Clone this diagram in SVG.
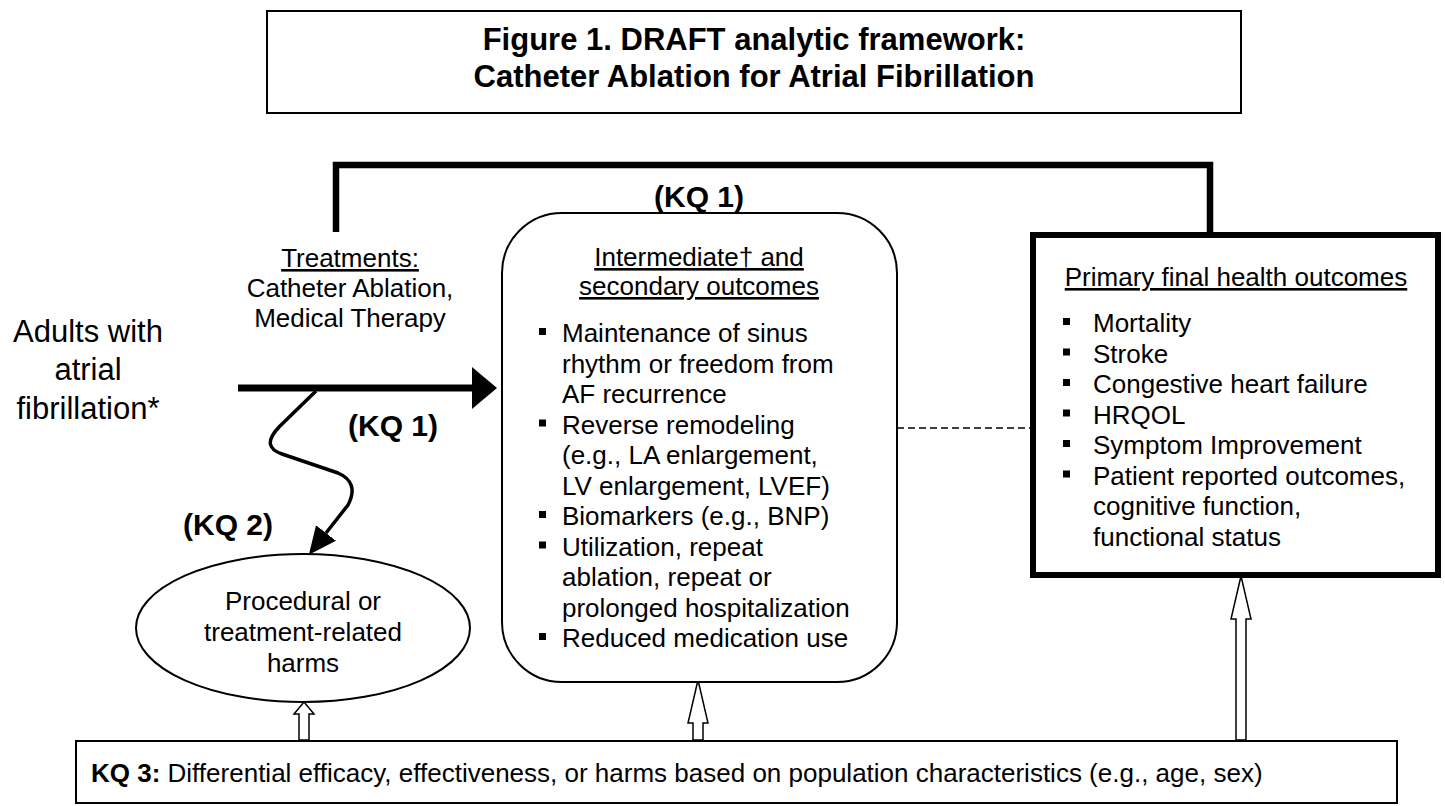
<svg xmlns="http://www.w3.org/2000/svg" width="1445" height="806" viewBox="0 0 1445 806">
<style>
text{font-family:"Liberation Sans",Arial,Helvetica,sans-serif;fill:#000}
.title{font-size:31px;font-weight:bold}
.big{font-size:31px}
.body{font-size:26px}
.kq{font-size:30px;font-weight:bold}
.u{text-decoration:underline}
.thin{fill:#fff;stroke:#000;stroke-width:2}
.thick{fill:#fff;stroke:#000;stroke-width:6}
.hollow{fill:#fff;stroke:#000;stroke-width:1.5;stroke-linejoin:miter}
.bul{fill:#000}
</style>
<defs>
<marker id="headBig" markerUnits="userSpaceOnUse" markerWidth="30" markerHeight="50" refX="0" refY="21" orient="auto" viewBox="0 0 30 42">
<path d="M0,0 L25,21 L0,42 z" fill="#000"/>
</marker>
<marker id="headWave" markerUnits="userSpaceOnUse" markerWidth="30" markerHeight="30" refX="0" refY="11" orient="auto" viewBox="0 0 26 22">
<path d="M0,0 L24,11 L0,22 z" fill="#000"/>
</marker>
</defs>

<g id="title">
<rect x="267" y="11" width="974" height="102" class="thin"/>
<text class="title" x="754" y="50" text-anchor="middle">Figure 1. DRAFT analytic framework:</text>
<text class="title" x="754" y="87" text-anchor="middle">Catheter Ablation for Atrial Fibrillation</text>
</g>

<g id="connectors" fill="none" stroke="#000">
<path id="kq1-overarching" d="M336,232 L336,165 L1210,165 L1210,232" stroke-width="6.5" stroke-linejoin="miter"/>
<path id="main-arrow" d="M238,388 L472,388" stroke-width="7" marker-end="url(#headBig)"/>
<path id="kq2-arrow" d="M316,391 L279,427 C266,441 268,449 282,454 L338,473 C352,479 356,490 348,505 L326,533" stroke-width="3.5" marker-end="url(#headWave)"/>
<path id="dashed" d="M897,428 L1030,428" stroke-width="1.5" stroke-dasharray="7,4"/>
<polygon class="hollow" points="304,702 314,714 309,714 309,740 299,740 299,714 294,714"/>
<polygon class="hollow" points="698,680 708,723 703,723 703,740 693,740 693,723 688,723"/>
<polygon class="hollow" points="1241,576 1251,619 1246,619 1246,740 1236,740 1236,619 1231,619"/>
</g>

<g id="labels">
<text class="kq" x="699" y="207" text-anchor="middle">(KQ 1)</text>
<text class="kq" x="393" y="436" text-anchor="middle">(KQ 1)</text>
<text class="kq" x="228" y="535" text-anchor="middle">(KQ 2)</text>
</g>

<g id="population">
<text class="big" x="88" y="342" text-anchor="middle">Adults with</text>
<text class="big" x="88" y="380" text-anchor="middle">atrial</text>
<text class="big" x="88" y="419" text-anchor="middle">fibrillation*</text>
</g>

<g id="treatments">
<text class="body u" x="350" y="267" text-anchor="middle">Treatments:</text>
<text class="body" x="350" y="297" text-anchor="middle">Catheter Ablation,</text>
<text class="body" x="350" y="327" text-anchor="middle">Medical Therapy</text>
</g>

<g id="intermediate">
<rect x="502" y="213" width="395" height="469" rx="60" ry="60" class="thin"/>
<text class="body u" x="699" y="266" text-anchor="middle">Intermediate† and</text>
<text class="body u" x="699" y="295" text-anchor="middle">secondary outcomes</text>
<rect class="bul" x="539" y="328" width="7" height="7"/>
<text class="body" x="562" y="342">Maintenance of sinus</text>
<text class="body" x="562" y="372.5">rhythm or freedom from</text>
<text class="body" x="562" y="403">AF recurrence</text>
<rect class="bul" x="539" y="419.5" width="7" height="7"/>
<text class="body" x="562" y="433.5">Reverse remodeling</text>
<text class="body" x="562" y="464">(e.g., LA enlargement,</text>
<text class="body" x="562" y="494.5">LV enlargement, LVEF)</text>
<rect class="bul" x="539" y="511" width="7" height="7"/>
<text class="body" x="562" y="525">Biomarkers (e.g., BNP)</text>
<rect class="bul" x="539" y="541.5" width="7" height="7"/>
<text class="body" x="562" y="555.5">Utilization, repeat</text>
<text class="body" x="562" y="586">ablation, repeat or</text>
<text class="body" x="562" y="616.5">prolonged hospitalization</text>
<rect class="bul" x="539" y="633" width="7" height="7"/>
<text class="body" x="562" y="647">Reduced medication use</text>
</g>

<g id="primary">
<rect x="1033" y="235" width="405" height="340" class="thick"/>
<text class="body u" x="1236" y="286" text-anchor="middle">Primary final health outcomes</text>
<rect class="bul" x="1063" y="318" width="7" height="7"/>
<text class="body" x="1093" y="332">Mortality</text>
<rect class="bul" x="1063" y="348.5" width="7" height="7"/>
<text class="body" x="1093" y="362.5">Stroke</text>
<rect class="bul" x="1063" y="379" width="7" height="7"/>
<text class="body" x="1093" y="393">Congestive heart failure</text>
<rect class="bul" x="1063" y="409.5" width="7" height="7"/>
<text class="body" x="1093" y="423.5">HRQOL</text>
<rect class="bul" x="1063" y="440" width="7" height="7"/>
<text class="body" x="1093" y="454">Symptom Improvement</text>
<rect class="bul" x="1063" y="470.5" width="7" height="7"/>
<text class="body" x="1093" y="484.5">Patient reported outcomes,</text>
<text class="body" x="1093" y="515">cognitive function,</text>
<text class="body" x="1093" y="545.5">functional status</text>
</g>

<g id="harms">
<ellipse cx="303" cy="628" rx="167" ry="74" class="thin"/>
<text class="body" x="303" y="610" text-anchor="middle">Procedural or</text>
<text class="body" x="303" y="641" text-anchor="middle">treatment-related</text>
<text class="body" x="303" y="672" text-anchor="middle">harms</text>
</g>

<g id="kq3">
<rect x="76" y="741" width="1321" height="62" class="thin"/>
<text class="body" x="91" y="782"><tspan font-weight="bold">KQ 3:</tspan> Differential efficacy, effectiveness, or harms based on population characteristics (e.g., age, sex)</text>
</g>
</svg>
